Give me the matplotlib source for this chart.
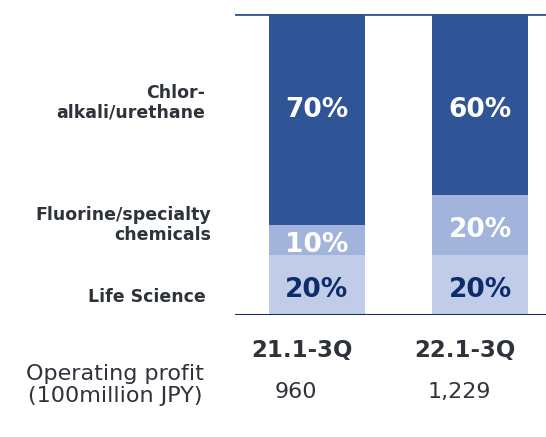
import matplotlib.pyplot as plt
import matplotlib.transforms as mtransforms

# data
periods = ['21.1-3Q', '22.1-3Q']
segments = ['Life Science', 'Fluorine/specialty\nchemicals', 'Chlor-\nalkali/urethane']
life_science = [20, 20]
fluorine = [10, 20]
chlor_alkali = [70, 60]
operating_profit = ['960', '1,229']

seg_colors = ['#C1CDE8', '#A2B4DC', '#2F5597']
seg_text_colors = ['#0E2C6B', 'white', 'white']
text_gray = '#2E333B'

W, H = 546, 437
fig = plt.figure(figsize=(W / 100, H / 100), dpi=100)
ax = fig.add_axes([235 / W, (H - 315) / H, (W - 235) / W, (315 - 14) / H])

x = list(range(len(periods)))
bottoms = [0] * len(periods)
n_seg = 3
for k, (vals, col, tcol) in enumerate(zip([life_science, fluorine, chlor_alkali],
                                          seg_colors, seg_text_colors)):
    ax.bar(x, vals, bottom=bottoms, width=0.587, color=col, linewidth=0)
    for xi, b, v in zip(x, bottoms, vals):
        if k == n_seg - 1:
            # top labels sit at the same height in both bars
            y = 68
        else:
            y = b + v / 2 - 1.6
        ax.text(xi, y, f'{v}%', ha='center', va='center', color=tcol,
                fontsize=19, fontweight='bold')
    bottoms = [b + v for b, v in zip(bottoms, vals)]

ax.axhline(100, color='#2F5597', lw=2)
ax.axhline(0, color='#0F2D6E', lw=2.2)
ax.set_xlim(-0.5, 1.404)
ax.set_ylim(0, 100)
ax.axis('off')

# segment names on the left
label_pos = [(206, 297), (211, 225), (205, 103)]
for name, (px, py) in zip(segments, label_pos):
    fig.text(px / W, 1 - py / H, name, ha='right', va='center', color=text_gray,
             fontsize=12.5, fontweight='bold', linespacing=1.1)

# period labels and operating profit row
trans = mtransforms.blended_transform_factory(ax.transData, fig.transFigure)
for xi, p, op in zip(x, periods, operating_profit):
    ax.text(xi - 0.09, 1 - 350 / H, p, transform=trans, ha='center', va='center',
            fontsize=16.5, fontweight='bold', color=text_gray)
    ax.text(xi - 0.125, 1 - 392 / H, op, transform=trans, ha='center', va='center',
            fontsize=16, color=text_gray)

fig.text(115 / W, 1 - 385 / H, 'Operating profit\n(100million JPY)', ha='center',
         va='center', fontsize=16, color=text_gray, linespacing=1.15)

fig.savefig('out.png', dpi=100)
